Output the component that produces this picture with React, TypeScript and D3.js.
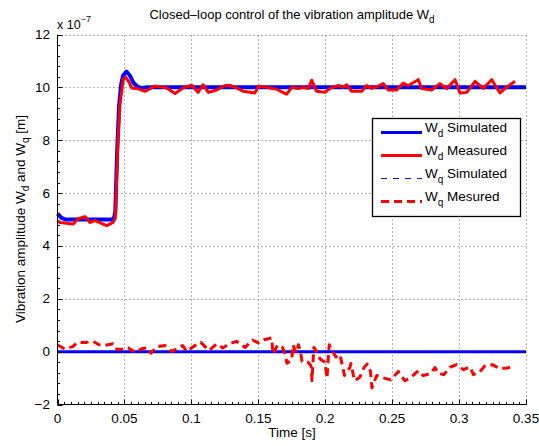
import React from "react";
import * as d3 from "d3";

// Values in units of 1e-7 m
const wdSimT = [0, 0.003, 0.006, 0.042, 0.0432, 0.0445, 0.046, 0.0475, 0.049, 0.0515, 0.054, 0.057, 0.060, 0.063, 0.067, 0.35];
const wdSimV = [5.22, 5.06, 5.0, 5.0, 5.3, 7.5, 9.3, 10.1, 10.45, 10.6, 10.45, 10.15, 10.02, 9.98, 10.0, 10.0];

const wdMeasT = [0, 0.0019, 0.0118, 0.0153, 0.0205, 0.0243, 0.028, 0.0368, 0.0415, 0.0432, 0.0452, 0.0467, 0.0492, 0.051, 0.0535, 0.0554, 0.0592, 0.0654, 0.0728, 0.0816, 0.0878, 0.0938, 0.1003, 0.105, 0.1087, 0.1127, 0.1189, 0.1251, 0.1289, 0.1339, 0.1388, 0.1475, 0.15, 0.1563, 0.1638, 0.1675, 0.1712, 0.175, 0.1799, 0.1836, 0.1874, 0.1899, 0.1936, 0.1998, 0.2036, 0.2098, 0.2135, 0.216, 0.2198, 0.2273, 0.231, 0.2347, 0.2385, 0.2434, 0.2471, 0.2534, 0.2583, 0.2621, 0.2695, 0.2721, 0.2795, 0.2857, 0.2908, 0.297, 0.3007, 0.3057, 0.3119, 0.3181, 0.3244, 0.3306, 0.3343, 0.3418];
const wdMeasV = [4.95, 4.89, 4.83, 5.03, 5.11, 4.89, 4.96, 4.77, 4.89, 5.05, 8.0, 9.4, 10.3, 10.38, 10.2, 9.98, 9.96, 9.85, 10.05, 9.98, 9.77, 9.98, 10.08, 9.81, 10.1, 9.81, 9.9, 10.07, 10.07, 9.98, 9.85, 9.79, 10.04, 10.0, 9.93, 9.83, 9.74, 10.0, 9.96, 10.0, 9.96, 10.27, 9.85, 9.81, 9.96, 10.07, 10.0, 10.1, 9.85, 9.85, 10.07, 9.96, 10.02, 10.14, 9.9, 9.9, 10.16, 10.07, 10.29, 9.96, 9.9, 10.14, 9.96, 10.29, 9.79, 9.81, 10.23, 9.96, 10.29, 9.79, 9.96, 10.23];

const wqSimT = [0, 0.35];
const wqSimV = [0, 0];

const wqMeasT = [0, 0.0056, 0.0114, 0.0148, 0.0218, 0.0267, 0.031, 0.0347, 0.0415, 0.0445, 0.0487, 0.0527, 0.0586, 0.0624, 0.0669, 0.0698, 0.0744, 0.0803, 0.0853, 0.089, 0.0935, 0.0965, 0.1027, 0.107, 0.1102, 0.1132, 0.1189, 0.1234, 0.1289, 0.1339, 0.1369, 0.1401, 0.1458, 0.15, 0.1543, 0.16, 0.161, 0.1644, 0.168, 0.17, 0.1714, 0.175, 0.1759, 0.1782, 0.18, 0.1817, 0.1827, 0.1871, 0.1894, 0.1901, 0.1915, 0.1948, 0.1961, 0.1998, 0.2013, 0.203, 0.206, 0.208, 0.211, 0.2144, 0.2185, 0.2192, 0.2219, 0.2258, 0.2291, 0.2314, 0.2338, 0.2349, 0.2385, 0.2441, 0.2489, 0.2546, 0.2571, 0.2596, 0.2646, 0.2695, 0.2733, 0.279, 0.282, 0.2845, 0.2887, 0.2932, 0.2982, 0.3032, 0.3082, 0.3107, 0.3152, 0.3194, 0.3252, 0.3306, 0.3356, 0.3418];
const wqMeasV = [0.25, 0.1, 0.19, 0.35, 0.35, 0.39, 0.26, 0.23, 0.3, 0.08, 0.1, 0.15, -0.04, 0.1, 0.15, -0.06, 0.19, 0.23, 0.0, 0.1, 0.23, 0.01, 0.23, 0.35, 0.19, 0.04, 0.29, 0.14, 0.31, 0.39, 0.26, 0.16, 0.44, 0.33, 0.45, 0.52, -0.09, 0.25, 0.16, -0.09, -0.44, -0.31, 0.26, -0.05, 0.26, -0.05, -0.37, -0.4, -0.53, -1.1, 0.16, -0.11, -0.28, -0.4, -1.0, 0.26, -0.03, -0.2, -0.11, -0.9, -0.59, -0.45, -1.1, -0.97, -0.59, -0.47, -0.75, -1.37, -0.9, -1.0, -1.07, -0.75, -0.94, -1.1, -0.95, -0.72, -0.91, -0.82, -0.6, -0.82, -0.87, -0.59, -0.49, -0.68, -0.58, -0.87, -0.78, -0.53, -0.5, -0.65, -0.62, -0.57];

const xTicks = [0, 0.05, 0.1, 0.15, 0.2, 0.25, 0.3, 0.35];
const xTickLabels = ["0", "0.05", "0.1", "0.15", "0.2", "0.25", "0.3", "0.35"];
const yTicks = [-2, 0, 2, 4, 6, 8, 10, 12];
const yTickLabels = ["\u22122", "0", "2", "4", "6", "8", "10", "12"];

const legendItems = [
  { sub: "d", text: "Simulated", color: "#0000ff", width: 3, dash: "" },
  { sub: "d", text: "Measured", color: "#ff0000", width: 3, dash: "" },
  { sub: "q", text: "Simulated", color: "#0000ff", width: 1, dash: "6,6" },
  { sub: "q", text: "Mesured", color: "#ff0000", width: 3, dash: "8,5" },
];

const W = 539;
const H = 446;
const FONT = "'Liberation Sans', Arial, Helvetica, sans-serif";

export default function App() {
  const x = d3.scaleLinear().domain([0, 0.35]).range([57.5, 526]);
  const y = d3.scaleLinear().domain([-2, 12]).range([404.5, 34.5]);

  const mk = (ts: number[], vs: number[]) =>
    d3.line<number>().x((_, i) => x(ts[i])).y((v) => y(v))(vs) || "";

  const xMinor = d3.range(0, 0.3500001, 0.005);
  const yMinor = d3.range(-2, 12.00001, 0.4);

  const x0 = x(0);
  const yb = y(-2);

  return (
    <svg width={W} height={H} style={{ position: "absolute", left: 0, top: 0, background: "#fff" }} fontFamily={FONT}>
      <rect x={0} y={0} width={W} height={H} fill="#fff" />
      {/* grid */}
      <g stroke="#666" strokeWidth={1} strokeDasharray="1,3">
        {xTicks.slice(1).map((t) => (
          <line key={"gx" + t} x1={Math.round(x(t)) + 0.5} x2={Math.round(x(t)) + 0.5} y1={yb} y2={y(12)} />
        ))}
        {yTicks.slice(1).map((t) => (
          <line key={"gy" + t} x1={x0} x2={x(0.35)} y1={Math.round(y(t)) + 0.5} y2={Math.round(y(t)) + 0.5} />
        ))}
      </g>
      {/* data */}
      <path d={mk(wdSimT, wdSimV)} fill="none" stroke="#0000ff" strokeWidth={4} strokeLinejoin="round" />
      <path d={mk(wdMeasT, wdMeasV)} fill="none" stroke="#ff0000" strokeWidth={3} strokeLinejoin="round" />
      <path d={mk(wqSimT, wqSimV)} fill="none" stroke="#0000ff" strokeWidth={3} />
      <path d={mk(wqMeasT, wqMeasV)} fill="none" stroke="#ff0000" strokeWidth={3} strokeDasharray="8,5" strokeLinejoin="round" />
      {/* axes */}
      <g stroke="#000" strokeWidth={1}>
        <line x1={x0} x2={x0} y1={yb} y2={y(12)} />
        <line x1={x0} x2={x(0.35)} y1={yb} y2={yb} />
        {xMinor.map((t, i) => (
          <line key={"xm" + i} x1={Math.round(x(t)) + 0.5} x2={Math.round(x(t)) + 0.5} y1={yb} y2={yb - 2.5} />
        ))}
        {xTicks.map((t) => (
          <line key={"xt" + t} x1={Math.round(x(t)) + 0.5} x2={Math.round(x(t)) + 0.5} y1={yb} y2={yb - 5} />
        ))}
        {yMinor.map((t, i) => (
          <line key={"ym" + i} x1={x0} x2={x0 + 2.5} y1={Math.round(y(t)) + 0.5} y2={Math.round(y(t)) + 0.5} />
        ))}
        {yTicks.map((t) => (
          <line key={"yt" + t} x1={x0} x2={x0 + 5} y1={Math.round(y(t)) + 0.5} y2={Math.round(y(t)) + 0.5} />
        ))}
      </g>
      {/* tick labels */}
      <g fontSize={13.5} fill="#000">
        {xTicks.map((t, i) => (
          <text key={"xl" + t} x={x(t)} y={423} textAnchor="middle">{xTickLabels[i]}</text>
        ))}
        {yTicks.map((t, i) => (
          <text key={"yl" + t} x={50} y={y(t) + 4.5} textAnchor="end">{yTickLabels[i]}</text>
        ))}
      </g>
      {/* exponent */}
      <text x={57} y={29} fontSize={12.5} fill="#000">
        x 10<tspan fontSize={9} dy={-7}>−7</tspan>
      </text>
      {/* title */}
      <text x={292} y={19} fontSize={13} textAnchor="middle" fill="#000">
        Closed–loop control of the vibration amplitude W<tspan fontSize={10} dy={4}>d</tspan>
      </text>
      {/* x label */}
      <text x={292} y={437} fontSize={13.5} textAnchor="middle" fill="#000">Time [s]</text>
      {/* y label */}
      <text transform={`translate(25,${(34 + 404) / 2}) rotate(-90)`} fontSize={13.5} textAnchor="middle" fill="#000">
        Vibration amplitude W<tspan fontSize={10} dy={4}>d</tspan><tspan dy={-4}> and W</tspan><tspan fontSize={10} dy={4}>q</tspan><tspan dy={-4}> [m]</tspan>
      </text>
      {/* legend */}
      <g>
        <rect x={372.5} y={118.5} width={148} height={98} fill="#fff" stroke="#000" strokeWidth={1.3} />
        {legendItems.map((it, i) => {
          const cy = 132.5 + i * 23;
          return (
            <g key={"lg" + i}>
              <line x1={381} x2={422} y1={cy} y2={cy} stroke={it.color} strokeWidth={it.width} strokeDasharray={it.dash || undefined} />
              <text x={425} y={cy - 0.5} fontSize={13.5} fill="#000">
                W<tspan fontSize={10} dy={5}>{it.sub}</tspan><tspan dy={-5}> {it.text}</tspan>
              </text>
            </g>
          );
        })}
      </g>
    </svg>
  );
}
